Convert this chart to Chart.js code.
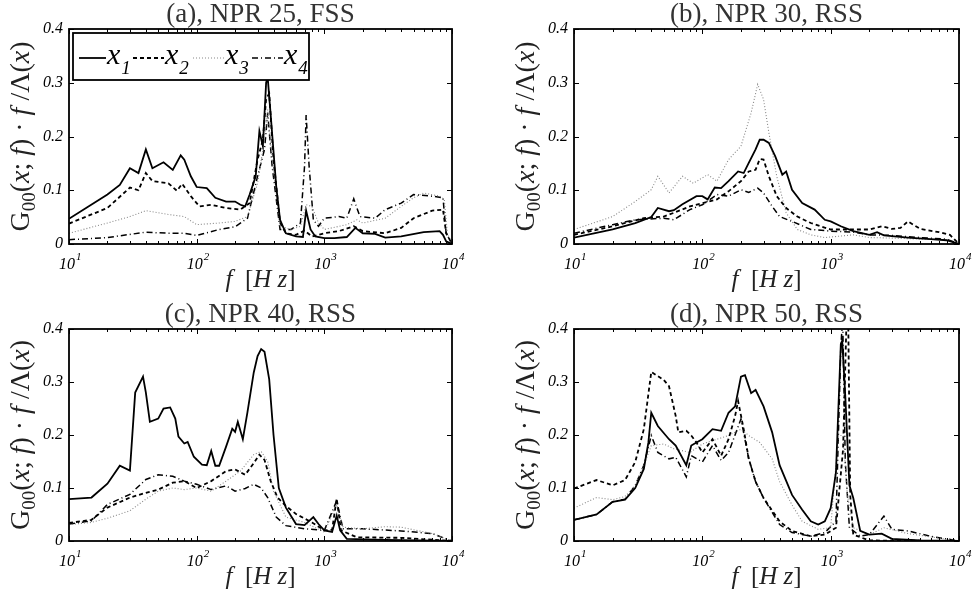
<!DOCTYPE html>
<html>
<head>
<meta charset="utf-8">
<script src="https://cdn.jsdelivr.net/npm/chart.js@4"></script>
<style>
  html, body { margin: 0; padding: 0; background: #fff; }
  #wrap { position: relative; width: 972px; height: 597px; }
  canvas { position: absolute; }
</style>
</head>
<body>
<div id="wrap">
  <canvas id="pa" width="486" height="297" style="left:0;top:0"></canvas>
  <canvas id="pb" width="486" height="297" style="left:486px;top:0"></canvas>
  <canvas id="pc" width="486" height="300" style="left:0;top:297px"></canvas>
  <canvas id="pd" width="486" height="300" style="left:486px;top:297px"></canvas>
</div>
<script>
  // ---- data: [frequency Hz, G00*f/Lambda] ----
  const panelTitles = ["(a), NPR 25, FSS", "(b), NPR 30, RSS", "(c), NPR 40, RSS", "(d), NPR 50, RSS"];
  const seriesNames = ["1", "2", "3", "4"];
  const xTickExps = [1, 2, 3, 4];
  const yTicks = [0, 0.1, 0.2, 0.3, 0.4];
  const yTickLabels = ["0", "0.1", "0.2", "0.3", "0.4"];

  // (a) NPR 25, FSS
  const a_x1 = [[10,0.047],[20,0.092],[25,0.11],[30,0.141],[35,0.132],[40,0.176],[45,0.141],[55,0.152],[65,0.138],[75,0.165],[80,0.157],[90,0.126],[100,0.106],[120,0.104],[140,0.086],[170,0.079],[200,0.079],[220,0.073],[240,0.07],[260,0.092],[290,0.126],[310,0.21],[330,0.182],[350,0.3],[360,0.31],[380,0.24],[420,0.107],[450,0.045],[500,0.02],[600,0.014],[680,0.013],[720,0.062],[780,0.027],[850,0.014],[1000,0.011],[1200,0.011],[1500,0.013],[1750,0.03],[2000,0.02],[2500,0.019],[3000,0.012],[4000,0.014],[6000,0.022],[8000,0.024],[8500,0.017],[9000,0.005],[10000,0]];
  const a_x2 = [[10,0.038],[20,0.067],[30,0.105],[35,0.1],[40,0.132],[45,0.117],[60,0.113],[70,0.099],[77,0.112],[90,0.089],[105,0.07],[130,0.073],[170,0.067],[220,0.064],[260,0.076],[300,0.157],[330,0.194],[350,0.27],[370,0.28],[400,0.157],[450,0.04],[500,0.02],[600,0.017],[700,0.025],[800,0.014],[1000,0.02],[1300,0.024],[1700,0.033],[2000,0.024],[3000,0.02],[4000,0.03],[5000,0.048],[7000,0.062],[8500,0.064],[9000,0.02],[10000,0]];
  const a_x3 = [[10,0.02],[20,0.039],[30,0.051],[40,0.062],[60,0.055],[80,0.051],[100,0.036],[150,0.039],[200,0.042],[250,0.051],[300,0.113],[340,0.194],[360,0.25],[390,0.157],[450,0.033],[550,0.027],[650,0.033],[720,0.073],[800,0.07],[900,0.039],[1000,0.027],[1500,0.036],[1800,0.045],[2000,0.039],[3000,0.048],[4000,0.07],[5000,0.086],[6000,0.095],[8000,0.089],[8700,0.083],[9200,0.02],[10000,0]];
  const a_x4 = [[10,0.008],[20,0.012],[40,0.022],[60,0.02],[80,0.02],[100,0.016],[150,0.027],[200,0.032],[250,0.048],[300,0.126],[340,0.176],[360,0.244],[390,0.145],[450,0.027],[550,0.027],[650,0.039],[700,0.145],[720,0.24],[760,0.145],[820,0.045],[900,0.033],[1000,0.048],[1300,0.051],[1500,0.048],[1700,0.084],[1900,0.051],[2500,0.048],[3000,0.064],[4000,0.076],[5000,0.092],[7000,0.089],[8500,0.086],[9000,0.02],[10000,0]];

  // (b) NPR 30, RSS
  const b_x1 = [[10,0.012],[20,0.027],[30,0.039],[40,0.05],[45,0.067],[55,0.061],[60,0.063],[70,0.074],[90,0.089],[100,0.089],[110,0.083],[125,0.105],[140,0.104],[160,0.117],[190,0.135],[210,0.132],[230,0.151],[260,0.176],[280,0.194],[300,0.194],[330,0.188],[370,0.163],[420,0.129],[450,0.135],[500,0.101],[600,0.076],[750,0.064],[900,0.045],[1000,0.042],[1200,0.033],[1500,0.024],[2000,0.017],[2300,0.022],[2600,0.016],[4000,0.012],[6000,0.009],[8000,0.007],[10000,0]];
  const b_x2 = [[10,0.017],[20,0.033],[35,0.048],[50,0.051],[60,0.058],[80,0.07],[100,0.076],[130,0.083],[160,0.098],[200,0.117],[230,0.135],[260,0.138],[280,0.158],[300,0.157],[330,0.126],[380,0.089],[450,0.067],[550,0.051],[700,0.039],[1000,0.027],[1500,0.027],[2000,0.027],[2500,0.033],[3000,0.028],[3500,0.03],[4000,0.042],[5000,0.028],[7000,0.022],[8500,0.017],[10000,0]];
  const b_x3 = [[10,0.027],[20,0.051],[30,0.079],[40,0.101],[45,0.126],[55,0.095],[70,0.126],[85,0.113],[110,0.129],[130,0.117],[160,0.157],[200,0.182],[240,0.244],[270,0.297],[300,0.269],[330,0.207],[380,0.126],[450,0.058],[550,0.027],[700,0.017],[900,0.012],[1500,0.017],[2000,0.012],[3000,0.011],[5000,0.009],[8000,0.008],[10000,0]];
  const b_x4 = [[10,0.02],[20,0.036],[30,0.045],[50,0.048],[60,0.045],[80,0.064],[100,0.073],[130,0.092],[160,0.089],[200,0.101],[230,0.096],[270,0.104],[300,0.095],[350,0.07],[400,0.051],[500,0.042],[700,0.027],[1000,0.024],[1500,0.022],[2000,0.017],[3000,0.016],[5000,0.012],[8000,0.009],[10000,0]];

  // (c) NPR 40, RSS
  const c_x1 = [[10,0.079],[15,0.082],[20,0.108],[25,0.142],[30,0.133],[33,0.28],[38,0.31],[40,0.28],[43,0.225],[50,0.231],[55,0.25],[62,0.252],[68,0.231],[72,0.197],[80,0.184],[85,0.187],[95,0.159],[110,0.144],[120,0.143],[130,0.17],[140,0.142],[150,0.142],[170,0.178],[190,0.212],[200,0.206],[210,0.225],[230,0.192],[250,0.243],[280,0.318],[300,0.349],[320,0.362],[340,0.357],[370,0.305],[400,0.2],[440,0.1],[500,0.063],[600,0.032],[700,0.03],[820,0.045],[900,0.032],[1000,0.02],[1150,0.017],[1250,0.048],[1330,0.02],[1500,0.004],[3000,0.002],[10000,0]];
  const c_x2 = [[10,0.034],[15,0.04],[20,0.063],[30,0.082],[40,0.091],[50,0.097],[65,0.11],[80,0.113],[100,0.1],[130,0.113],[170,0.132],[200,0.135],[240,0.125],[280,0.147],[310,0.163],[340,0.153],[380,0.113],[430,0.082],[500,0.066],[600,0.051],[800,0.035],[1000,0.02],[1150,0.021],[1250,0.08],[1350,0.02],[1800,0.007],[4000,0.006],[10000,0]];
  const c_x3 = [[10,0.031],[15,0.035],[20,0.043],[30,0.057],[40,0.079],[50,0.094],[65,0.1],[80,0.097],[100,0.1],[130,0.094],[170,0.113],[220,0.132],[280,0.163],[320,0.169],[360,0.15],[400,0.094],[500,0.045],[700,0.035],[1000,0.017],[1250,0.069],[1400,0.026],[2000,0.023],[3000,0.027],[4000,0.026],[7000,0.014],[10000,0]];
  const c_x4 = [[10,0.032],[15,0.038],[20,0.069],[30,0.088],[40,0.116],[50,0.125],[65,0.122],[80,0.113],[100,0.107],[130,0.097],[170,0.104],[200,0.094],[240,0.099],[280,0.107],[320,0.1],[360,0.082],[420,0.045],[500,0.029],[700,0.023],[1000,0.02],[1250,0.076],[1400,0.023],[2000,0.023],[4000,0.019],[7000,0.014],[10000,0]];

  // (d) NPR 50, RSS
  const d_x1 = [[10,0.04],[15,0.05],[20,0.074],[25,0.078],[30,0.1],[35,0.136],[38,0.186],[40,0.242],[45,0.217],[55,0.192],[62,0.18],[75,0.143],[82,0.18],[90,0.186],[100,0.192],[120,0.211],[140,0.208],[160,0.242],[180,0.254],[200,0.31],[215,0.313],[240,0.279],[260,0.285],[300,0.254],[350,0.205],[400,0.143],[500,0.087],[600,0.059],[700,0.037],[800,0.031],[900,0.037],[1000,0.062],[1100,0.13],[1200,0.372],[1230,0.378],[1300,0.273],[1400,0.105],[1500,0.081],[1700,0.019],[2000,0.012],[2500,0.014],[3000,0.004],[5000,0.001],[10000,0]];
  const d_x2 = [[10,0.099],[15,0.115],[20,0.105],[25,0.115],[30,0.149],[35,0.211],[40,0.319],[50,0.304],[55,0.292],[62,0.236],[65,0.205],[75,0.208],[82,0.199],[90,0.186],[100,0.167],[120,0.192],[140,0.161],[160,0.192],[180,0.236],[190,0.264],[210,0.211],[230,0.155],[260,0.112],[300,0.081],[400,0.037],[500,0.019],[700,0.009],[900,0.012],[1100,0.025],[1250,0.174],[1330,0.42],[1370,0.42],[1420,0.087],[1500,0.012],[2000,0.001],[10000,0]];
  const d_x3 = [[10,0.062],[15,0.082],[20,0.078],[25,0.084],[30,0.105],[35,0.143],[40,0.18],[50,0.183],[60,0.174],[80,0.167],[100,0.183],[130,0.192],[160,0.199],[200,0.211],[230,0.199],[280,0.186],[350,0.155],[400,0.112],[500,0.068],[600,0.037],[800,0.022],[1000,0.025],[1150,0.199],[1250,0.199],[1350,0.087],[1500,0.025],[2000,0.012],[2600,0.025],[4000,0.014],[10000,0]];
  const d_x4 = [[10,0.04],[15,0.05],[20,0.074],[25,0.079],[30,0.105],[35,0.143],[40,0.199],[45,0.167],[55,0.155],[62,0.158],[75,0.121],[82,0.161],[100,0.149],[120,0.18],[140,0.152],[160,0.167],[200,0.23],[230,0.155],[260,0.112],[300,0.081],[400,0.031],[500,0.016],[700,0.009],[900,0.016],[1100,0.037],[1200,0.366],[1240,0.42],[1300,0.149],[1400,0.025],[1700,0.009],[2000,0.012],[2600,0.047],[3000,0.022],[4000,0.019],[6000,0.009],[10000,0]];

  // ---- styles ----
  const SERIF = '"Liberation Serif", "DejaVu Serif", serif';
  const lineStyles = [
    { borderColor: "#000", borderWidth: 1.8, borderDash: [] },
    { borderColor: "#000", borderWidth: 1.8, borderDash: [4, 3] },
    { borderColor: "#888", borderWidth: 1.1, borderDash: [1, 2] },
    { borderColor: "#000", borderWidth: 1.5, borderDash: [6, 3, 1, 3] }
  ];

  const yLabelParts = [["G",""],["00","sub"],["(",""],["x","i"],["; ",""],["f","i"],[")",""],[" \u00b7 ",""],["f","i"],[" /",""],["\u039b",""],["(",""],["x","i"],[")",""]];
  const xLabelParts = [["f","i"],["  [",""],["H","i"],[" z","i"],["]",""]];

  function partFont(kind, size) {
    if (kind === "sub") return `${Math.round(size * 0.68)}px ${SERIF}`;
    if (kind === "i") return `italic ${size}px ${SERIF}`;
    return `${size}px ${SERIF}`;
  }

  // draws a row of text parts centered on (0,0) in current transform
  function drawParts(ctx, parts, size) {
    let w = 0;
    parts.forEach(([t, k]) => { ctx.font = partFont(k, size); w += ctx.measureText(t).width; });
    let cx = -w / 2;
    parts.forEach(([t, k]) => {
      ctx.font = partFont(k, size);
      ctx.fillText(t, cx, k === "sub" ? size * 0.22 : 0);
      cx += ctx.measureText(t).width;
    });
  }

  const framePlugin = {
    id: "frame",
    afterDatasetsDraw(chart, args, opts) {
      const { ctx, chartArea: ca, scales: { x, y } } = chart;
      ctx.save();
      ctx.strokeStyle = "#000";
      ctx.lineWidth = 1;
      ctx.setLineDash([]);

      // log ticks on x (inside, top and bottom)
      for (let d = 1; d <= 4; d++) {
        for (let m = 1; m <= 9; m++) {
          const f = m * Math.pow(10, d);
          if (f > 10000) break;
          const px = Math.round(x.getPixelForValue(f)) + 0.5;
          const len = m === 1 ? 5 : 3;
          ctx.beginPath();
          ctx.moveTo(px, ca.bottom); ctx.lineTo(px, ca.bottom - len);
          ctx.moveTo(px, ca.top); ctx.lineTo(px, ca.top + len);
          ctx.stroke();
        }
      }
      yTicks.forEach(v => {
        const py = Math.round(y.getPixelForValue(v)) + 0.5;
        ctx.beginPath();
        ctx.moveTo(ca.left, py); ctx.lineTo(ca.left + 5, py);
        ctx.moveTo(ca.right, py); ctx.lineTo(ca.right - 5, py);
        ctx.stroke();
      });

      ctx.lineWidth = 1.8;
      ctx.strokeRect(ca.left, ca.top, ca.right - ca.left, ca.bottom - ca.top);

      // y tick labels
      ctx.fillStyle = "#000";
      ctx.font = `italic 16px ${SERIF}`;
      ctx.textAlign = "right";
      ctx.textBaseline = "middle";
      yTicks.forEach((v, i) => {
        ctx.fillText(yTickLabels[i], ca.left - 6, y.getPixelForValue(v));
      });

      // x tick labels 10^n
      ctx.textBaseline = "alphabetic";
      xTickExps.forEach(e => {
        const px = x.getPixelForValue(Math.pow(10, e));
        ctx.font = `italic 16px ${SERIF}`;
        ctx.textAlign = "center";
        ctx.fillText("10", px - 2, ca.bottom + 25);
        const w = ctx.measureText("10").width;
        ctx.font = `italic 11px ${SERIF}`;
        ctx.textAlign = "left";
        ctx.fillText(String(e), px - 1 + w / 2, ca.bottom + 16);
      });

      // axis titles
      ctx.fillStyle = "#222";
      ctx.textAlign = "left";
      ctx.save();
      ctx.translate((ca.left + ca.right) / 2, ca.bottom + 43);
      drawParts(ctx, xLabelParts, 25);
      ctx.restore();

      ctx.save();
      ctx.translate(ca.left - 40, (ca.top + ca.bottom) / 2);
      ctx.rotate(-Math.PI / 2);
      drawParts(ctx, yLabelParts, 28);
      ctx.restore();

      // panel title
      ctx.fillStyle = "#333";
      ctx.font = `27px ${SERIF}`;
      ctx.textAlign = "center";
      ctx.fillText(opts.title, (ca.left + ca.right) / 2, ca.top - 7);

      // legend (panel a only)
      if (opts.legend) {
        const lx = ca.left + 4, ly = ca.top + 4, lw = 236, lh = 47;
        ctx.fillStyle = "#fff";
        ctx.fillRect(lx, ly, lw, lh);
        ctx.lineWidth = 1.8;
        ctx.strokeStyle = "#000";
        ctx.strokeRect(lx, ly, lw, lh);
        const starts = [lx + 6, lx + 60, lx + 120, lx + 179];
        chart.data.datasets.forEach((ds, i) => {
          const sx = starts[i];
          const my = ly + 25;
          ctx.strokeStyle = ds.borderColor;
          ctx.lineWidth = ds.borderWidth;
          ctx.setLineDash(ds.borderDash);
          ctx.beginPath();
          ctx.moveTo(sx, my); ctx.lineTo(sx + (i === 0 ? 27 : 31), my);
          ctx.stroke();
          ctx.setLineDash([]);
          ctx.fillStyle = "#000";
          ctx.textAlign = "left";
          ctx.font = `italic 30px ${SERIF}`;
          const tx = sx + (i === 0 ? 28 : 32);
          ctx.fillText("x", tx, my + 6);
          const xw = ctx.measureText("x").width;
          ctx.font = `italic 19px ${SERIF}`;
          ctx.fillText(seriesNames[i], tx + xw + 1, my + 16);
        });
      }
      ctx.restore();
    }
  };

  function makePanel(id, title, series, pad, legend) {
    return new Chart(document.getElementById(id), {
      type: "line",
      data: {
        datasets: series.map((pts, i) => ({
          label: "x" + seriesNames[i],
          data: pts.map(p => ({ x: p[0], y: p[1] })),
          borderColor: lineStyles[i].borderColor,
          borderWidth: lineStyles[i].borderWidth,
          borderDash: lineStyles[i].borderDash,
          pointRadius: 0,
          tension: 0,
          fill: false
        }))
      },
      options: {
        responsive: false,
        animation: false,
        events: [],
        layout: { padding: pad },
        plugins: {
          legend: { display: false },
          tooltip: { enabled: false },
          frame: { title: title, legend: legend }
        },
        scales: {
          x: { type: "logarithmic", min: 10, max: 10000, display: false },
          y: { type: "linear", min: 0, max: 0.4, display: false }
        }
      },
      plugins: [framePlugin]
    });
  }

  makePanel("pa", panelTitles[0], [a_x1, a_x2, a_x3, a_x4], { left: 69, right: 34, top: 29, bottom: 53 }, true);
  makePanel("pb", panelTitles[1], [b_x1, b_x2, b_x3, b_x4], { left: 88, right: 13, top: 29, bottom: 53 }, false);
  makePanel("pc", panelTitles[2], [c_x1, c_x2, c_x3, c_x4], { left: 69, right: 34, top: 32, bottom: 56 }, false);
  makePanel("pd", panelTitles[3], [d_x1, d_x2, d_x3, d_x4], { left: 88, right: 13, top: 32, bottom: 56 }, false);
</script>
</body>
</html>
